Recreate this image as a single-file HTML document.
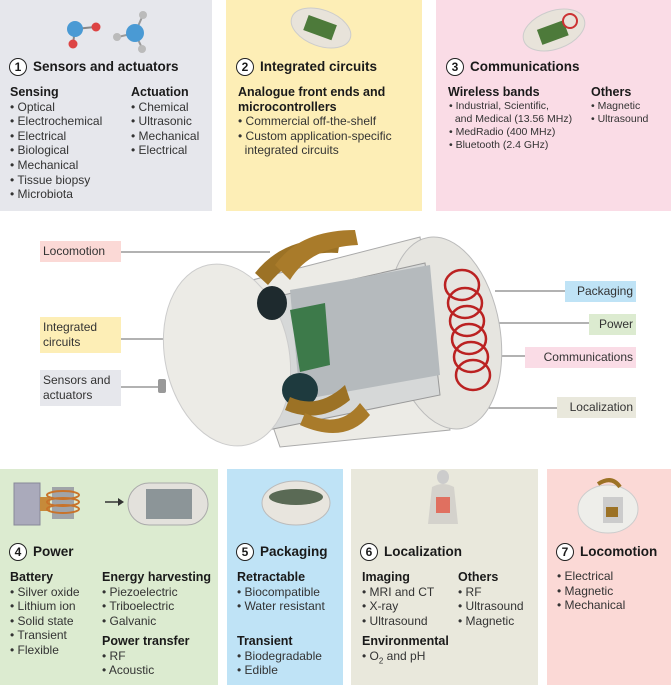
<!DOCTYPE html>
<html><head><meta charset="utf-8">
<style>
*{margin:0;padding:0;box-sizing:border-box}
body{width:671px;height:685px;position:relative;background:#fff;font-family:"Liberation Sans",sans-serif;color:#222;overflow:hidden}
.p{position:absolute}
.t{position:absolute;font-size:12px;line-height:14.6px;white-space:nowrap;color:#333}
.t b{color:#1a1a1a;font-size:12.5px}
.h{position:absolute;font-size:13.5px;font-weight:bold;white-space:nowrap;color:#1a1a1a;line-height:18px}
.n{display:inline-block;width:18px;height:18px;border:1.3px solid #222;border-radius:50%;background:#fff;text-align:center;font-size:12px;line-height:16px;margin-right:6px;vertical-align:top}
.lab{position:absolute;font-size:12px;line-height:15px;padding:3px 3px;color:#333;white-space:nowrap}
.sm{font-size:10.5px;line-height:13px}
</style></head><body>
<div class="p" style="left:0;top:0;width:212px;height:211px;background:#e6e7ec"></div>
<div class="p" style="left:226px;top:0;width:196px;height:211px;background:#fdeeb6"></div>
<div class="p" style="left:436px;top:0;width:235px;height:211px;background:#fadce6"></div>
<div class="p" style="left:0;top:469px;width:218px;height:216px;background:#dcebd0"></div>
<div class="p" style="left:227px;top:469px;width:116px;height:216px;background:#bfe3f6"></div>
<div class="p" style="left:351px;top:469px;width:187px;height:216px;background:#e9e8dc"></div>
<div class="p" style="left:547px;top:469px;width:124px;height:216px;background:#fbd9d6"></div>

<svg class="p" style="left:0;top:0" width="671" height="60">
<line x1="75" y1="29" x2="95" y2="27" stroke="#888" stroke-width="2"/><line x1="75" y1="29" x2="73" y2="44" stroke="#888" stroke-width="2"/>
<circle cx="75" cy="29" r="8" fill="#4a9ad4"/><circle cx="96" cy="27" r="4.5" fill="#d44"/><circle cx="73" cy="44" r="4.5" fill="#d44"/>
<line x1="135" y1="33" x2="143" y2="15" stroke="#999" stroke-width="2"/><line x1="135" y1="33" x2="118" y2="37" stroke="#999" stroke-width="2"/><line x1="135" y1="33" x2="142" y2="48" stroke="#999" stroke-width="2"/>
<circle cx="135" cy="33" r="9" fill="#4a9ad4"/><circle cx="143" cy="15" r="4" fill="#bbb"/><circle cx="117" cy="37" r="4" fill="#bbb"/><circle cx="142" cy="49" r="4" fill="#bbb"/>
<ellipse cx="321" cy="28" rx="31" ry="18" transform="rotate(20 321 28)" fill="#e8e3da" stroke="#ccc"/>
<rect x="305" y="20" width="30" height="16" fill="#4d7a3a" transform="rotate(20 321 28)"/>
<ellipse cx="554" cy="30" rx="32" ry="19" transform="rotate(-20 554 30)" fill="#e8e3da" stroke="#ccc"/>
<rect x="538" y="24" width="28" height="16" fill="#4d7a3a" transform="rotate(-20 554 30)"/>
<circle cx="570" cy="21" r="7" fill="none" stroke="#c33" stroke-width="2"/>
</svg>

<div class="h" style="left:9px;top:58px"><span class="n">1</span>Sensors and actuators</div>
<div class="t" style="left:10px;top:85px"><b>Sensing</b><br>• Optical<br>• Electrochemical<br>• Electrical<br>• Biological<br>• Mechanical<br>• Tissue biopsy<br>• Microbiota</div>
<div class="t" style="left:131px;top:85px"><b>Actuation</b><br>• Chemical<br>• Ultrasonic<br>• Mechanical<br>• Electrical</div>
<div class="h" style="left:236px;top:58px"><span class="n">2</span>Integrated circuits</div>
<div class="t" style="left:238px;top:85px"><b>Analogue front ends and<br>microcontrollers</b><br>• Commercial off-the-shelf<br>• Custom application-specific<br>&nbsp;&nbsp;integrated circuits</div>
<div class="h" style="left:446px;top:58px"><span class="n">3</span>Communications</div>
<div class="t" style="left:448px;top:85px"><b>Wireless bands</b></div>
<div class="t sm" style="left:449px;top:100px">• Industrial, Scientific,<br>&nbsp;&nbsp;and Medical (13.56 MHz)<br>• MedRadio (400 MHz)<br>• Bluetooth (2.4 GHz)</div>
<div class="t" style="left:591px;top:85px"><b>Others</b></div>
<div class="t sm" style="left:591px;top:100px">• Magnetic<br>• Ultrasound</div>

<svg class="p" style="left:0;top:225px" width="671" height="240">
<g stroke="#666" stroke-width="1" fill="none">
<line x1="120" y1="27" x2="270" y2="27"/>
<line x1="121" y1="114" x2="300" y2="114"/>
<line x1="121" y1="162" x2="160" y2="162"/>
<line x1="495" y1="66" x2="565" y2="66"/>
<line x1="430" y1="98" x2="589" y2="98"/>
<line x1="490" y1="131" x2="525" y2="131"/>
<polyline points="375,95 460,183 557,183"/>
</g>
<polygon points="225,62 420,12 450,205 280,222" fill="#ecebe6" stroke="#aaa"/>
<ellipse cx="445" cy="108" rx="55" ry="97" transform="rotate(-10 445 108)" fill="#e6e5e0" stroke="#bbb"/>
<polygon points="248,78 425,38 440,170 268,205" fill="#d6d8d8" stroke="#999"/>
<polygon points="290,65 430,40 440,150 300,175" fill="#b5babd"/>
<polygon points="290,85 325,78 330,140 300,147" fill="#3d7a4a"/>
<g fill="none" stroke="#b22" stroke-width="2.5">
<ellipse cx="462" cy="60" rx="17" ry="15"/><ellipse cx="465" cy="78" rx="17" ry="15"/><ellipse cx="467" cy="96" rx="17" ry="15"/><ellipse cx="469" cy="114" rx="17" ry="15"/><ellipse cx="471" cy="132" rx="17" ry="15"/><ellipse cx="473" cy="150" rx="17" ry="15"/>
</g>
<ellipse cx="227" cy="130" rx="62" ry="92" transform="rotate(-12 227 130)" fill="#ecebe6" stroke="#ccc"/>
<ellipse cx="272" cy="78" rx="15" ry="17" fill="#1e2a2e"/>
<ellipse cx="300" cy="165" rx="18" ry="17" fill="#1e3a3e"/>
<path d="M255,48 Q285,10 340,15 L338,28 Q295,25 268,60 Z" fill="#9c7225"/>
<path d="M275,40 Q300,5 355,5 L358,20 Q310,22 290,55 Z" fill="#a97b2a"/>
<path d="M285,185 Q320,200 350,175 L345,160 Q318,185 290,172 Z" fill="#9c7225"/>
<path d="M300,200 Q345,220 370,190 L360,178 Q340,205 305,188 Z" fill="#a97b2a"/>
<rect x="158" y="154" width="8" height="14" rx="2" fill="#999"/>
</svg>
<div class="lab" style="left:40px;top:241px;width:81px;background:#fbd9d6">Locomotion</div>
<div class="lab" style="left:40px;top:317px;width:81px;background:#fdeeb6">Integrated<br>circuits</div>
<div class="lab" style="left:40px;top:370px;width:81px;background:#e6e7ec">Sensors and<br>actuators</div>
<div class="lab" style="left:565px;top:281px;width:71px;background:#bfe3f6;text-align:right">Packaging</div>
<div class="lab" style="left:589px;top:314px;width:47px;background:#dcebd0;text-align:right">Power</div>
<div class="lab" style="left:525px;top:347px;width:111px;background:#fadce6;text-align:right">Communications</div>
<div class="lab" style="left:557px;top:397px;width:79px;background:#e9e8dc;text-align:right">Localization</div>

<svg class="p" style="left:0;top:469px" width="671" height="70">
<rect x="14" y="14" width="26" height="42" fill="#aab" stroke="#889"/>
<rect x="40" y="28" width="10" height="14" fill="#c68a3a"/>
<rect x="52" y="18" width="22" height="32" fill="#a0a4a8"/>
<g fill="none" stroke="#c8732a" stroke-width="2"><ellipse cx="63" cy="26" rx="16" ry="4"/><ellipse cx="63" cy="33" rx="16" ry="4"/><ellipse cx="63" cy="40" rx="16" ry="4"/></g>
<path d="M105,33 H118" stroke="#333" stroke-width="1.5"/><path d="M118,29 L124,33 L118,37Z" fill="#333"/>
<rect x="128" y="14" width="80" height="42" rx="21" fill="#e3e1dc" stroke="#aaa"/>
<rect x="146" y="20" width="46" height="30" fill="#8c9598"/>
<ellipse cx="296" cy="34" rx="34" ry="22" fill="#e8e5de" stroke="#bbb"/>
<ellipse cx="296" cy="28" rx="27" ry="8" fill="#5a6a55"/>
<ellipse cx="443" cy="8" rx="6" ry="7" fill="#ccc"/>
<path d="M432,18 Q443,12 454,18 L458,55 L428,55 Z" fill="#d4d2cc"/>
<rect x="436" y="28" width="14" height="16" fill="#e07060"/>
<ellipse cx="608" cy="40" rx="30" ry="24" fill="#eeeeea" stroke="#ccc"/>
<rect x="603" y="28" width="20" height="26" fill="#ccc"/>
<rect x="606" y="38" width="12" height="10" fill="#9c7225"/>
<path d="M598,15 Q612,6 620,18" stroke="#9c7225" stroke-width="4" fill="none"/>
</svg>

<div class="h" style="left:9px;top:543px"><span class="n">4</span>Power</div>
<div class="t" style="left:10px;top:570px"><b>Battery</b><br>• Silver oxide<br>• Lithium ion<br>• Solid state<br>• Transient<br>• Flexible</div>
<div class="t" style="left:102px;top:570px"><b>Energy harvesting</b><br>• Piezoelectric<br>• Triboelectric<br>• Galvanic</div>
<div class="t" style="left:102px;top:634px"><b>Power transfer</b><br>• RF<br>• Acoustic</div>
<div class="h" style="left:236px;top:543px"><span class="n">5</span>Packaging</div>
<div class="t" style="left:237px;top:570px"><b>Retractable</b><br>• Biocompatible<br>• Water resistant</div>
<div class="t" style="left:237px;top:634px"><b>Transient</b><br>• Biodegradable<br>• Edible</div>
<div class="h" style="left:360px;top:543px"><span class="n">6</span>Localization</div>
<div class="t" style="left:362px;top:570px"><b>Imaging</b><br>• MRI and CT<br>• X-ray<br>• Ultrasound</div>
<div class="t" style="left:362px;top:634px"><b>Environmental</b><br>• O<sub style="font-size:8px">2</sub> and pH</div>
<div class="t" style="left:458px;top:570px"><b>Others</b><br>• RF<br>• Ultrasound<br>• Magnetic</div>
<div class="h" style="left:556px;top:543px"><span class="n">7</span>Locomotion</div>
<div class="t" style="left:557px;top:569px">• Electrical<br>• Magnetic<br>• Mechanical</div>
</body></html>
